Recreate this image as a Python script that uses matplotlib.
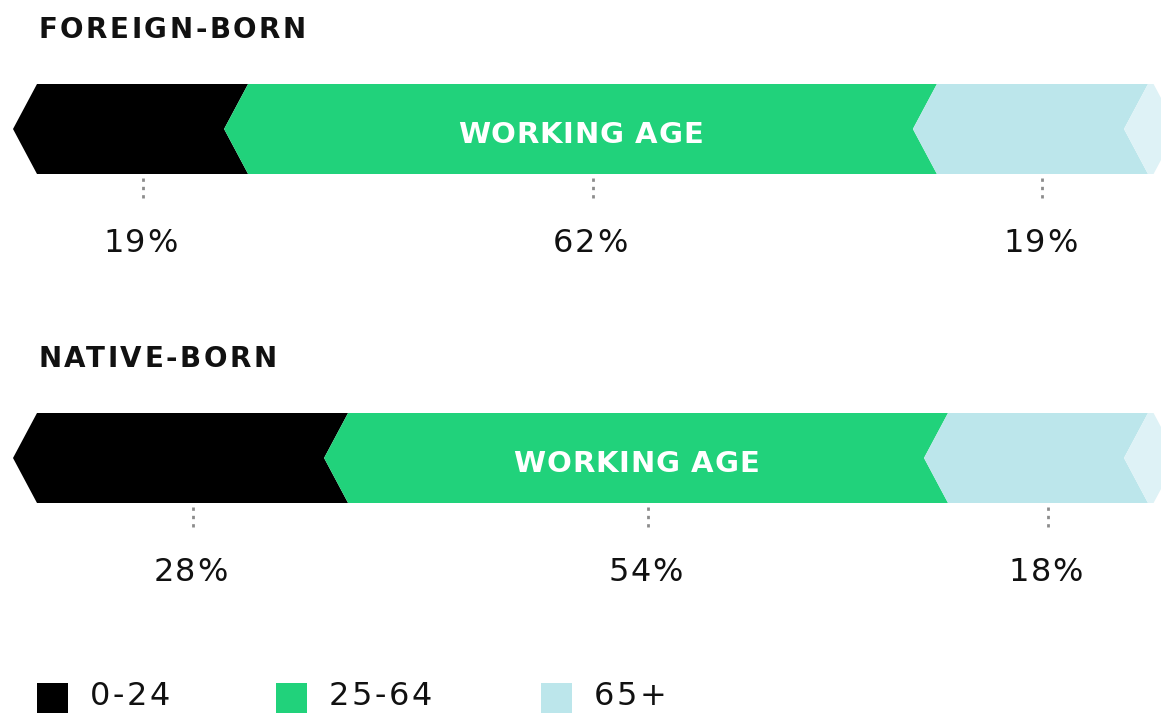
import matplotlib
matplotlib.use("Agg")
import matplotlib.pyplot as plt
from matplotlib.patches import Polygon, Rectangle
from matplotlib.transforms import IdentityTransform

# data
groups = ["FOREIGN-BORN", "NATIVE-BORN"]
age_bands = ["0-24", "25-64", "65+"]
shares = [[19, 62, 19],
          [28, 54, 18]]
mid_label = "WORKING AGE"

colors = ["#000000", "#21d27b", "#bce6eb"]
ghost = "#def2f6"

W, H = 1161, 713
fig = plt.figure(figsize=(W / 100, H / 100), dpi=100)
renderer = fig.canvas.get_renderer()


def spaced_text(ax, x, y, s, track, ha="center", **kw):
    # matplotlib has no letter-spacing, so place the glyphs one by one
    def width(sub):
        t = fig.text(0, 0, sub, **kw)
        w = t.get_window_extent(renderer).width
        t.remove()
        return w
    X, Y = ax.transData.transform((x, y))
    total = width(s) + track * (len(s) - 1)
    start = X - total / 2 if ha == "center" else X
    for i, ch in enumerate(s):
        if ch == " ":
            continue
        off = width(s[:i + 1]) - width(ch)
        fig.text(start + off + i * track, Y, ch, transform=IdentityTransform(),
                 ha="left", va="baseline", **kw)


# x axis in percent, y axis in pixels (top = 0)
ax = fig.add_axes([37 / W, 0, 1111 / W, 1])
ax.set_xlim(0, 100)
ax.set_ylim(H, 0)
ax.axis("off")

depth = 24 / 1111 * 100  # chevron depth in percent units
bar_top = [84, 413]
bar_h = 90
title_base = [38, 367]

for g, name in enumerate(groups):
    y0 = bar_top[g]
    y1 = y0 + bar_h
    ym = (y0 + y1) / 2
    spaced_text(ax, 0.1, title_base[g], name, 2.6, ha="left", fontsize=20,
                fontweight="bold", family="DejaVu Sans", color="#111111")
    left = 0
    for i, v in enumerate(shares[g]):
        right = left + v
        pts = [(left, y0), (right, y0), (right - depth, ym), (right, y1),
               (left, y1), (left - depth, ym)]
        ax.add_patch(Polygon(pts, closed=True, facecolor=colors[i],
                             edgecolor="none", clip_on=False))
        c = left + v / 2
        if i == 1:
            spaced_text(ax, c - depth * 0.5, ym + 14, mid_label, 0.8,
                        fontsize=21, fontweight="bold", family="DejaVu Sans",
                        color="white")
        # dotted tick + value
        ax.plot([c, c], [y1 + 4, y1 + 27], color="#8c8c8c", lw=2,
                ls=(0, (1.2, 1.8)), clip_on=False)
        spaced_text(ax, c - 0.2, y1 + 78, f"{v}%", 1.5, fontsize=23,
                    family="DejaVu Sans", color="#111111")
        left = right
    # faint notch at the far right
    pts = [(100 - depth, ym), (100, y0), (100 + 0.5, y0),
           (100 + 0.5 + depth, ym), (100 + 0.5, y1), (100, y1)]
    ax.add_patch(Polygon(pts, closed=True, facecolor=ghost, edgecolor="none",
                         clip_on=False))

# legend along the bottom
lax = fig.add_axes([0, 0, 1, 1])
lax.set_xlim(0, W)
lax.set_ylim(H, 0)
lax.axis("off")
leg_x = [37, 276, 541]
for i, lab in enumerate(age_bands):
    lax.add_patch(Rectangle((leg_x[i], 683), 31, 40, facecolor=colors[i],
                            edgecolor="none"))
    spaced_text(lax, leg_x[i] + 53, 705, lab, 2.5, ha="left", fontsize=23,
                family="DejaVu Sans", color="#111111")

fig.savefig("out.png", dpi=100, facecolor="white")
